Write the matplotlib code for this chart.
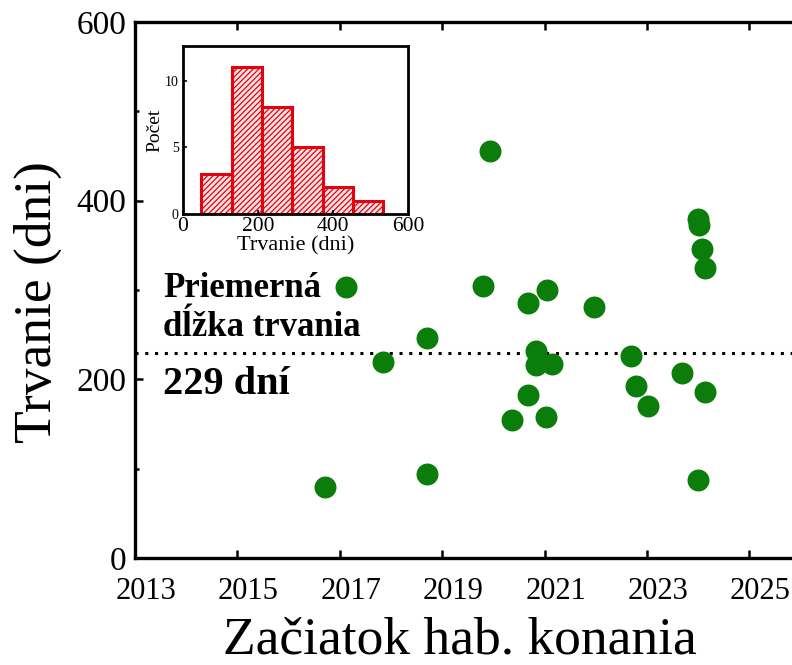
import matplotlib
matplotlib.use("Agg")
import matplotlib.pyplot as plt
import matplotlib.transforms as mtransforms
from matplotlib.ticker import MultipleLocator

plt.rcParams['font.family'] = ['Liberation Serif', 'DejaVu Serif']
plt.rcParams['hatch.linewidth'] = 0.9

# start of the session (year) and its duration (days)
years = [2016.72, 2017.12, 2017.84, 2018.70, 2018.70, 2019.80, 2019.93,
         2020.37, 2020.68, 2020.68, 2020.83, 2020.83, 2021.02, 2021.04,
         2021.15, 2021.97, 2022.69, 2022.78, 2023.01, 2023.68, 2023.99,
         2024.02, 2024.08, 2024.14, 2024.13, 2024.00]
durations = [80, 303, 219, 246, 94, 305, 456,
             155, 286, 182, 232, 216, 158, 300,
             217, 281, 226, 192, 170, 207, 379,
             373, 346, 325, 186, 87]
mean_duration = 229

# histogram in the inset
hist_edges = [50, 131, 212, 292, 373, 453, 534]
hist_counts = [3, 11, 8, 5, 2, 1]

fig = plt.figure(figsize=(7.92, 6.65), dpi=100)
ax = fig.add_axes([0.1705, 0.1609, 0.8404, 0.806])

ax.scatter(years, durations, s=250, color='#0b7d0b', zorder=3, linewidths=0)
ax.axhline(mean_duration, color='black', linestyle=(0, (1, 2.2)), linewidth=2.2, zorder=2)

ax.set_xlim(2013, 2026)
ax.set_ylim(0, 600)
ax.set_xticks([2013, 2015, 2017, 2019, 2021, 2023, 2025])
ax.yaxis.set_major_locator(MultipleLocator(200))
ax.yaxis.set_minor_locator(MultipleLocator(100))

for s in ax.spines.values():
    s.set_linewidth(2.4)
ax.tick_params(which='major', direction='in', length=6, width=1.8,
               top=True, right=True)
ax.tick_params(which='minor', direction='in', length=3, width=1.8,
               top=False, right=True)
ax.tick_params(axis='x', labelsize=22, pad=14)
ax.tick_params(axis='y', labelsize=24, pad=6)

# the year labels sit a little right of their ticks in the original
shift = mtransforms.ScaledTranslation(0.11, 0, fig.dpi_scale_trans)
for lab in ax.get_xticklabels():
    lab.set_transform(lab.get_transform() + shift)

ax.text(0.042, 0.487, "Priemerná", transform=ax.transAxes,
        fontsize=25, fontweight='bold')
ax.text(0.042, 0.414, "dĺžka trvania", transform=ax.transAxes,
        fontsize=25, fontweight='bold')
ax.text(0.042, 0.306, "229 dní", transform=ax.transAxes,
        fontsize=29, fontweight='bold')

fig.text(38 / 792, 0.546, "Trvanie (dni)", rotation=90,
         ha='center', va='center', fontsize=38.5)
fig.text(460 / 792, 0.017, "Začiatok hab. konania",
         ha='center', va='baseline', fontsize=38.5)

# inset histogram
ins = fig.add_axes([0.2307, 0.678, 0.2845, 0.2531])
widths = [hist_edges[i + 1] - hist_edges[i] for i in range(len(hist_counts))]
ins.bar(hist_edges[:-1], hist_counts, width=widths, align='edge',
        facecolor='#fbe3e3', edgecolor='#e3000f', linewidth=2.2, hatch='//////')
ins.set_xlim(0, 600)
ins.set_ylim(0, 12.6)
ins.set_xticks([0, 200, 400, 600])
ins.set_yticks([0, 5, 10])
for s in ins.spines.values():
    s.set_linewidth(2)
ins.tick_params(direction='in', length=3, width=1.2)
ins.tick_params(axis='x', labelsize=15.5, pad=2)
ins.tick_params(axis='y', labelsize=10, pad=3)
ins.set_xlabel("Trvanie (dni)", fontsize=16, labelpad=0.5)
ins.set_ylabel("Počet", fontsize=14, labelpad=1)

fig.savefig("out.png", dpi=100)
